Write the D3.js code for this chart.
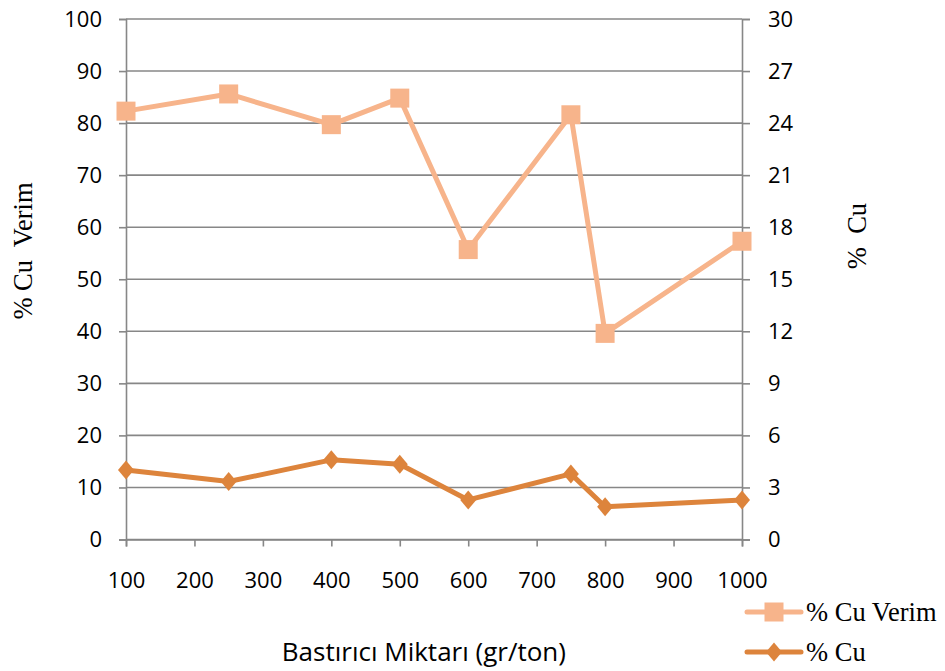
<!DOCTYPE html>
<html>
<head>
<meta charset="utf-8">
<script src="https://cdn.jsdelivr.net/npm/d3@7"></script>
<style>
  html, body { margin: 0; padding: 0; background: #fff; }
  svg { display: block; }
  .serif { font-family: "Liberation Serif", "Times New Roman", serif; font-size: 26.5px; fill: #000; white-space: pre; }
</style>
</head>
<body>
<svg id="chart" width="945" height="671"></svg>
<script>
// Suppressant dosage (gr/ton)
const dosage = [100, 250, 400, 500, 600, 750, 800, 1000];
// Copper recovery (%), left axis
const recovery = [82.3, 85.6, 79.7, 84.8, 55.7, 81.6, 39.6, 57.3];
// Copper grade (%), right axis
const grade = [4.01, 3.34, 4.59, 4.34, 2.28, 3.78, 1.89, 2.28];

const xTicks = [100, 200, 300, 400, 500, 600, 700, 800, 900, 1000];
const yLeftTicks = [0, 10, 20, 30, 40, 50, 60, 70, 80, 90, 100];
const yRightTicks = [0, 3, 6, 9, 12, 15, 18, 21, 24, 27, 30];

const seriesNames = ["% Cu Verim", "% Cu"];
const colors = { recovery: "#F7B48B", grade: "#DD843C" };

const svg = d3.select("#chart");
const plot = { left: 126, right: 742, top: 19, bottom: 539.5 };

const x = d3.scaleLinear().domain([100, 1000]).range([plot.left, plot.right]);
const yL = d3.scaleLinear().domain([0, 100]).range([plot.bottom, plot.top]);
const yR = d3.scaleLinear().domain([0, 30]).range([plot.bottom, plot.top]);

const gridColor = "#878787";
const sansFont = '"Open Sans", sans-serif';

// horizontal gridlines
svg.append("g").selectAll("line").data(yLeftTicks).join("line")
  .attr("x1", plot.left).attr("x2", plot.right)
  .attr("y1", d => yL(d)).attr("y2", d => yL(d))
  .attr("stroke", gridColor).attr("stroke-width", 1.6);

// left axis
const leftAxis = svg.append("g")
  .attr("transform", `translate(${plot.left},0)`)
  .call(d3.axisLeft(yL).tickValues(yLeftTicks).tickFormat(d3.format("d")).tickSize(7).tickPadding(17));
// right axis
const rightAxis = svg.append("g")
  .attr("transform", `translate(${plot.right},0)`)
  .call(d3.axisRight(yR).tickValues(yRightTicks).tickFormat(d3.format("d")).tickSize(8).tickPadding(18));
// bottom axis
const bottomAxis = svg.append("g")
  .attr("transform", `translate(0,${plot.bottom})`)
  .call(d3.axisBottom(x).tickValues(xTicks).tickFormat(d3.format("d")).tickSize(7).tickPadding(34));

[leftAxis, rightAxis, bottomAxis].forEach(g => {
  g.select(".domain").attr("stroke", gridColor).attr("stroke-width", 1.6);
  g.selectAll(".tick line").attr("stroke", gridColor).attr("stroke-width", 1.6);
  g.selectAll(".tick text").attr("fill", "#000")
    .style("font-family", sansFont).style("font-size", "22px");
});
bottomAxis.selectAll(".tick text").attr("dy", "0.32em");

// lines
const lineRec = d3.line().x((d, i) => x(dosage[i])).y(d => yL(d));
const lineGrade = d3.line().x((d, i) => x(dosage[i])).y(d => yR(d));

svg.append("path").datum(recovery)
  .attr("d", lineRec).attr("fill", "none")
  .attr("stroke", colors.recovery).attr("stroke-width", 5).attr("stroke-linejoin", "round");

svg.append("path").datum(grade)
  .attr("d", lineGrade).attr("fill", "none")
  .attr("stroke", colors.grade).attr("stroke-width", 5).attr("stroke-linejoin", "round");

// markers
const sq = 19;
svg.append("g").selectAll("rect").data(recovery).join("rect")
  .attr("x", (d, i) => x(dosage[i]) - sq / 2)
  .attr("y", d => yL(d) - sq / 2)
  .attr("width", sq).attr("height", sq)
  .attr("fill", colors.recovery);

const diamond = "M0,-9.5L8,0L0,9.5L-8,0Z";
svg.append("g").selectAll("path").data(grade).join("path")
  .attr("transform", (d, i) => `translate(${x(dosage[i])},${yR(d)})`)
  .attr("d", diamond)
  .attr("fill", colors.grade);

// axis titles
svg.append("text").attr("class", "serif")
  .attr("transform", "translate(23,251) rotate(-90)")
  .attr("text-anchor", "middle").attr("dominant-baseline", "central")
  .text("% Cu  Verim");

svg.append("text").attr("class", "serif")
  .attr("transform", "translate(857,236) rotate(-90)")
  .attr("text-anchor", "middle").attr("dominant-baseline", "central")
  .text("%  Cu");

svg.append("text")
  .attr("x", 566).attr("y", 651)
  .attr("text-anchor", "end").attr("dominant-baseline", "central")
  .style("font-family", sansFont).style("font-size", "26px")
  .text("Bastırıcı Miktarı (gr/ton)");

// legend
const legend = svg.append("g");
const legendRows = [
  { name: seriesNames[0], color: colors.recovery, y: 612, shape: "square" },
  { name: seriesNames[1], color: colors.grade, y: 652, shape: "diamond" }
];
legendRows.forEach(r => {
  legend.append("line")
    .attr("x1", 747).attr("x2", 801).attr("y1", r.y).attr("y2", r.y)
    .attr("stroke", r.color).attr("stroke-width", 5).attr("stroke-linecap", "round");
  if (r.shape === "square") {
    legend.append("rect").attr("x", 774 - 9.5).attr("y", r.y - 9.5)
      .attr("width", sq).attr("height", sq).attr("fill", r.color);
  } else {
    legend.append("path").attr("transform", `translate(774,${r.y})`)
      .attr("d", diamond).attr("fill", r.color);
  }
  legend.append("text").attr("class", "serif")
    .attr("x", 806).attr("y", r.y).attr("dominant-baseline", "central")
    .text(r.name);
});
</script>
</body>
</html>
